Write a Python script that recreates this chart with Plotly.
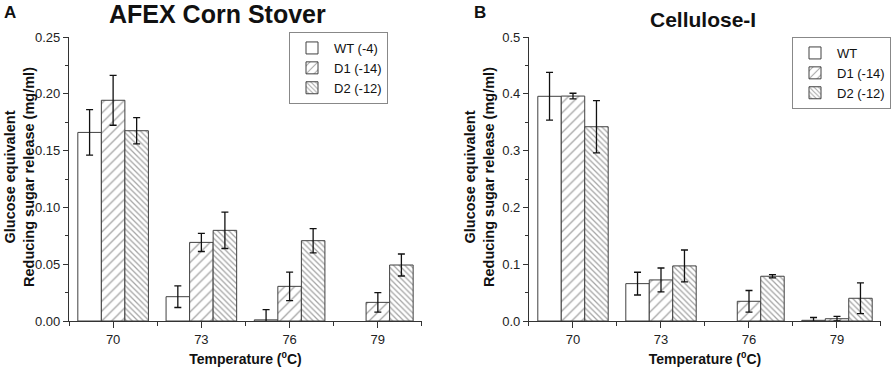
import plotly.graph_objects as go
from plotly.subplots import make_subplots

temps = ["70", "73", "76", "79"]
xpos = [0, 1, 2, 3]

# Panel A: AFEX Corn Stover
a_wt = [0.166, 0.0214, 0.001, None]
a_wt_err = [0.020, 0.0095, 0.009, None]
a_d1 = [0.1943, 0.0692, 0.0305, 0.0164]
a_d1_err = [0.022, 0.008, 0.0125, 0.0085]
a_d2 = [0.1675, 0.0798, 0.0707, 0.0493]
a_d2_err = [0.0115, 0.016, 0.0107, 0.0097]

# Panel B: Cellulose-I
b_wt = [0.3956, 0.0658, None, 0.0012]
b_wt_err = [0.042, 0.020, None, 0.005]
b_d1 = [0.396, 0.0723, 0.0347, 0.004]
b_d1_err = [0.005, 0.021, 0.019, 0.004]
b_d2 = [0.342, 0.097, 0.0788, 0.040]
b_d2_err = [0.046, 0.028, 0.003, 0.027]

a_names = ["WT (-4)", "D1 (-14)", "D2 (-12)"]
b_names = ["WT", "D1 (-14)", "D2 (-12)"]

FONT = "Liberation Sans, Arial, sans-serif"
OUTLINE = "#404040"

styles = [
    dict(shape="", size=8, solidity=0.2),
    dict(shape="/", size=7, solidity=0.18),
    dict(shape="\\", size=4, solidity=0.32),
]

fig = make_subplots(rows=1, cols=2, horizontal_spacing=0.13)

def add_panel(col, series, errs, names, legend):
    for i, (vals, err, name) in enumerate(zip(series, errs, names)):
        st = styles[i]
        pattern = dict(shape=st["shape"], fgcolor="#4a4a4a", bgcolor="white",
                       solidity=st["solidity"], size=st["size"], fillmode="overlay")
        fig.add_trace(go.Bar(
            x=xpos, y=vals, name=name, legend=legend, offsetgroup=str(i),
            marker=dict(color="white", line=dict(color=OUTLINE, width=1),
                        pattern=pattern),
            error_y=dict(type="data", array=err, visible=True, color="#111111",
                         thickness=1.3, width=3.5),
            showlegend=True,
        ), row=1, col=col)

add_panel(1, [a_wt, a_d1, a_d2], [a_wt_err, a_d1_err, a_d2_err], a_names, "legend")
add_panel(2, [b_wt, b_d1, b_d2], [b_wt_err, b_d1_err, b_d2_err], b_names, "legend2")

xcommon = dict(
    tickmode="array", tickvals=xpos, ticktext=temps, range=[-0.5, 3.5],
    showline=True, linecolor="#333333", linewidth=1.2, ticks="outside",
    ticklen=6, tickcolor="#333333", showgrid=False, zeroline=False,
    automargin=False,
    tickfont=dict(size=13, color="#222222", family=FONT),
    minor=dict(tickvals=[-0.5, 0.5, 1.5, 2.5, 3.5], ticks="outside", ticklen=4,
               tickcolor="#333333", showgrid=False),
    title=dict(text="<b>Temperature (<sup>0</sup>C)</b>",
               font=dict(size=14, color="#111111", family=FONT), standoff=8),
)
ycommon = dict(
    showline=True, linecolor="#333333", linewidth=1.2, ticks="outside",
    ticklen=5, tickcolor="#333333", showgrid=False, zeroline=False,
    automargin=False,
    tickfont=dict(size=13, color="#222222", family=FONT),
)

fig.update_xaxes(**xcommon, domain=[0.0, 0.4347], row=1, col=1)
fig.update_xaxes(**xcommon, domain=[0.5665, 1.0], row=1, col=2)
fig.update_yaxes(**ycommon, range=[0, 0.25], dtick=0.05, tickformat=".2f",
                 minor=dict(dtick=0.025, ticks="outside", ticklen=3, tickcolor="#333333"),
                 row=1, col=1)
fig.update_yaxes(**ycommon, range=[0, 0.5], dtick=0.1, tickformat=".1f",
                 minor=dict(dtick=0.05, ticks="outside", ticklen=3, tickcolor="#333333"),
                 row=1, col=2)

legend_style = dict(bgcolor="white", bordercolor="#888888", borderwidth=1,
                    font=dict(size=13, color="#111111", family=FONT),
                    yanchor="top", tracegroupgap=0, itemwidth=34)

W, H = 892, 369
ml, mr, mt, mb = 69, 11, 37, 48
pw, ph = W - ml - mr, H - mt - mb

def px2paper(px, py):
    return (px - ml) / pw, (H - mb - py) / ph

def ann(text, px, py, size, anchor, angle=0):
    x, y = px2paper(px, py)
    return dict(text=text, x=x, y=y, xref="paper", yref="paper", showarrow=False,
                font=dict(size=size, color="#111111", family=FONT),
                xanchor=anchor, yanchor="middle", textangle=angle)

ytitle = "<b>Glucose equivalent<br>Reducing sugar release (mg/ml)</b>"

fig.update_layout(
    width=W, height=H,
    margin=dict(l=ml, r=mr, t=mt, b=mb, autoexpand=False),
    paper_bgcolor="white", plot_bgcolor="white",
    barmode="group", bargap=0.2, bargroupgap=0.0,
    font=dict(family=FONT),
    legend=dict(**legend_style, xanchor="left", x=px2paper(289, 0)[0], y=px2paper(0, 32)[1]),
    legend2=dict(**legend_style, xanchor="right", x=px2paper(891, 0)[0], y=px2paper(0, 37)[1]),
    annotations=[
        ann("<b>A</b>", 2, 13, 17, "left"),
        ann("<b>AFEX Corn Stover</b>", 217, 14, 25, "center"),
        ann("<b>B</b>", 472, 13, 17, "left"),
        ann("<b>Cellulose-I</b>", 703, 19.5, 21, "center"),
        ann(ytitle, 19, 177, 14.5, "center", -90),
        ann(ytitle, 479, 177, 14.5, "center", -90),
    ],
)

fig.write_html("out.html", config={"displayModeBar": False},
               post_script="document.body.style.margin='0';document.body.style.overflow='hidden';")
